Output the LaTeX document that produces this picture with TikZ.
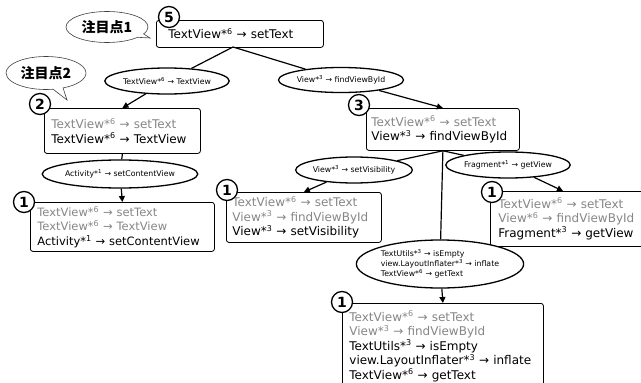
\documentclass[tikz,border=0pt]{standalone}
\usepackage{fontspec}
\setmainfont{DejaVu Sans}
\newfontfamily\jpfont{Noto Sans CJK JP}
\usetikzlibrary{shapes.geometric,shapes.callouts,arrows.meta}
\definecolor{txtgray}{RGB}{135,135,135}
\newcommand{\cnt}[1]{\textsuperscript{#1}}
\newcommand{\old}[1]{{\color{txtgray}#1}}
\newcommand{\boxfont}{\fontsize{12}{14.5}\selectfont\hyphenpenalty=10000 \exhyphenpenalty=10000 \relax}
\newcommand{\smallboxfont}{\fontsize{11.5}{14.5}\selectfont\hyphenpenalty=10000 \exhyphenpenalty=10000 \relax}
\tikzset{
  box/.style={draw, rounded corners=2.5pt, line width=0.8pt, fill=white,
    anchor=north west, align=left, inner xsep=7pt, inner ysep=0pt,
    font=\boxfont},
  num/.style={circle, draw, line width=1.3pt, fill=white, inner sep=0pt,
    minimum size=21pt, font=\bfseries\fontsize{14}{14}\selectfont},
  lbl/.style={ellipse, draw, line width=1.3pt, fill=white, inner sep=0pt,
    font=\fontsize{7.8}{10}\selectfont},
  note/.style={ellipse callout, draw=black!75, line width=0.6pt, fill=white,
    inner sep=0pt, font=\jpfont\bfseries\fontsize{14}{14}\selectfont},
  edge/.style={line width=1.2pt},
  arr/.style={line width=1.2pt, -{Triangle[length=6pt,width=6pt]}}
}
\begin{document}
\begin{tikzpicture}[x=1pt,y=-1pt]
\useasboundingbox (0,0) rectangle (641,383);
\clip (0,0) rectangle (641,383);

% callouts
\node[note, minimum width=82pt, minimum height=31pt,
  callout absolute pointer={(150,38)}] (k1) at (107,27) {注目点1};
\node[note, minimum width=80pt, minimum height=33pt,
  callout absolute pointer={(67,100)}] (k2) at (46,73) {注目点2};

% state boxes
\node[box, minimum width=167pt, minimum height=27pt, text width=143pt, inner xsep=12pt] (n5) at (156,20)
  {TextView*\cnt{6} → setText};
\node[box, minimum width=156pt, minimum height=45pt, text width=142pt] (n2) at (44,108)
  {\old{TextView*\cnt{6} → setText}\\TextView*\cnt{6} → TextView};
\node[box, minimum width=153pt, minimum height=42pt, text width=143pt, inner xsep=5pt] (n3) at (366,108)
  {\old{TextView*\cnt{6} → setText}\\View*\cnt{3} → findViewById};
\node[box, minimum width=184pt, minimum height=49pt, text width=170pt, font=\smallboxfont] (na) at (30,202)
  {\old{TextView*\cnt{6} → setText}\\\old{TextView*\cnt{6} → TextView}\\Activity*\cnt{1} → setContentView};
\node[box, minimum width=155pt, minimum height=50pt, text width=143pt, inner xsep=6pt] (nv) at (226,192)
  {\old{TextView*\cnt{6} → setText}\\\old{View*\cnt{3} → findViewById}\\View*\cnt{3} → setVisibility};
\node[box, minimum width=170pt, minimum height=55pt, text width=156pt, inner xsep=8pt] (nf) at (490,191)
  {\old{TextView*\cnt{6} → setText}\\\old{View*\cnt{6} → findViewById}\\Fragment*\cnt{3} → getView};
\node[box, minimum width=201pt, minimum height=86pt, text width=187pt] (nb) at (342,303)
  {\old{TextView*\cnt{6} → setText}\\\old{View*\cnt{3} → findViewById}\\TextUtils*\cnt{3} → isEmpty\\view.LayoutInflater*\cnt{3} → inflate\\TextView*\cnt{6} → getText};

% step counters
\node[num] (c5) at (169,17) {5};
\node[num] (c2) at (40,104) {2};
\node[num] (c3) at (359,105) {3};
\node[num] (ca) at (24,202) {1};
\node[num] (cv) at (227,190) {1};
\node[num] (cf) at (492,192) {1};
\node[num] (cb) at (342,302) {1};

% transition labels
\node[lbl, minimum width=111pt, minimum height=26pt] (e1) at (167,81)
  {TextView*\cnt{6} → TextView};
\node[lbl, minimum width=112pt, minimum height=25pt] (e2) at (341,80)
  {View*\cnt{3} → findViewById};
\node[lbl, minimum width=131pt, minimum height=28pt] (e3) at (120,174)
  {Activity*\cnt{1} → setContentView};
\node[lbl, minimum width=100pt, minimum height=26pt] (e4) at (354,170)
  {View*\cnt{3} → setVisibility};
\node[lbl, minimum width=100pt, minimum height=26pt] (e5) at (508,165)
  {Fragment*\cnt{1} → getView};
\node[lbl, minimum width=150pt, minimum height=48pt, align=left] (e6) at (440,264)
  {TextUtils*\cnt{3} → isEmpty\\view.LayoutInflater*\cnt{3} → inflate\\TextView*\cnt{6} → getText};

% connectors
\coordinate (p5) at (233,47);
\coordinate (tf) at (563,191);
\draw[edge] (p5) -- (e1);
\draw[arr] (e1) -- (n2.north);
\draw[edge] (p5) -- (e2);
\draw[arr] (e2) -- (n3.north);
\draw[edge] (n2.south) -- (e3);
\draw[arr] (e3) -- (na.north);
\draw[edge] (n3.south) -- (e4);
\draw[arr] (e4) -- (nv.north);
\draw[edge] (n3.south) -- (e5);
\draw[arr] (e5) -- (tf);
\draw[edge] (n3.south) -- (e6);
\draw[arr] (e6) -- (nb.north);
\end{tikzpicture}
\end{document}
